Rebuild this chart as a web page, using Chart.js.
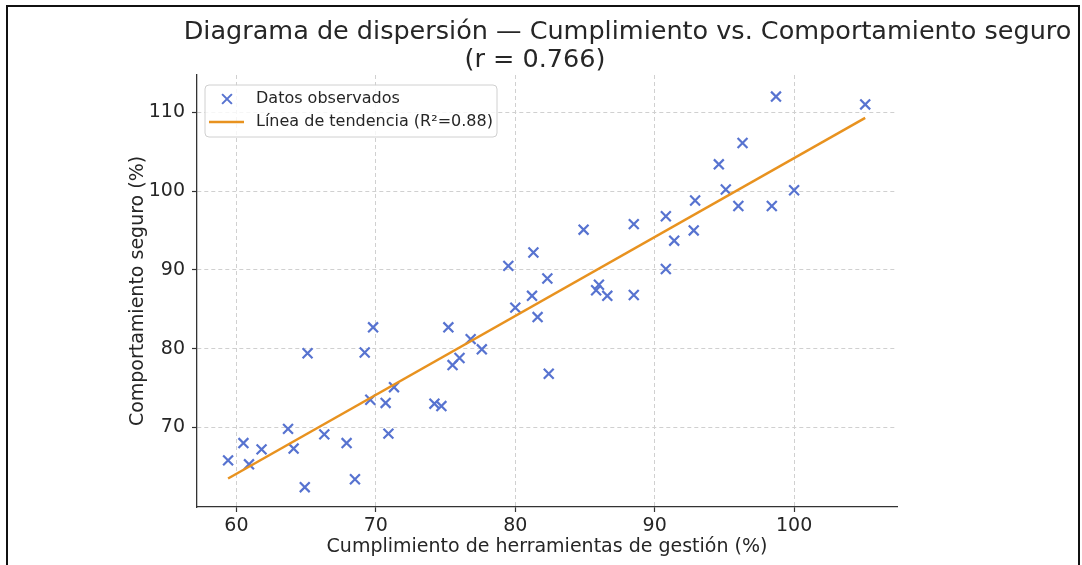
<!DOCTYPE html>
<html>
<head>
<meta charset="utf-8">
<script src="https://cdn.jsdelivr.net/npm/chart.js@4.4.0/dist/chart.umd.min.js"></script>
<style>
  html, body { margin: 0; padding: 0; background: #ffffff; }
  #wrap { width: 1082px; height: 565px; position: relative; }
</style>
</head>
<body>
<div id="wrap"><canvas id="c" width="1082" height="565"></canvas></div>
<script>
// Compliance with management tools (%) and observed safe behaviour (%)
const compliance = [59.4, 60.5, 60.9, 61.8, 63.7, 64.1, 64.9, 65.1, 66.3, 67.9,
                    68.5, 69.2, 69.8, 69.6, 70.7, 70.9, 71.3, 74.2, 74.7, 75.2,
                    75.5, 76.0, 76.8, 77.6, 80.0, 81.2, 81.6, 82.4, 85.8, 86.0,
                    86.6, 88.5, 79.5, 81.3, 82.3, 84.9, 88.5, 90.8, 90.8, 91.4,
                    92.8, 92.9, 94.6, 95.1, 96.0, 96.3, 98.4, 98.7, 100.0, 105.1];
const safety     = [65.8, 68.0, 65.3, 67.2, 69.8, 67.3, 62.4, 79.4, 69.1, 68.0,
                    63.4, 79.5, 82.7, 73.5, 73.1, 69.2, 75.1, 73.0, 72.7, 82.7,
                    77.9, 78.8, 81.2, 79.9, 85.2, 86.7, 84.0, 76.8, 87.4, 88.1,
                    86.7, 86.8, 90.5, 92.2, 88.9, 95.1, 95.8, 90.1, 96.8, 93.7,
                    95.0, 98.8, 103.4, 100.2, 98.1, 106.1, 98.1, 112.0, 100.1, 111.0];

// Fitted trend line end points
const trendX = [59.4, 105.1];
const trendY = [63.5, 109.3];

const xTicks = [60, 70, 80, 90, 100];
const yTicks = [70, 80, 90, 100, 110];

const titleLines = ['Diagrama de dispersión — Cumplimiento vs. Comportamiento seguro', '(r = 0.766)'];
const xLabel = 'Cumplimiento de herramientas de gestión (%)';
const yLabel = 'Comportamiento seguro (%)';
const seriesNames = ['Datos observados', 'Línea de tendencia (R²=0.88)'];

const FONT = "'DejaVu Sans', sans-serif";
const TEXT = '#262626';
const BLUE = '#5773d0';
const ORANGE = '#e8921f';

const points = compliance.map((x, i) => ({ x: x, y: safety[i] }));
const trend = trendX.map((x, i) => ({ x: x, y: trendY[i] }));

// Outer frame and two-line title
const framePlugin = {
  id: 'frameTitle',
  beforeDraw(chart) {
    const ctx = chart.ctx;
    ctx.save();
    ctx.fillStyle = '#ffffff';
    ctx.fillRect(0, 0, chart.width, chart.height);
    ctx.restore();
  },
  afterDraw(chart) {
    const ctx = chart.ctx;
    ctx.save();
    ctx.strokeStyle = '#111111';
    ctx.lineWidth = 2;
    ctx.beginPath();
    ctx.moveTo(7, chart.height + 2);
    ctx.lineTo(7, 6);
    ctx.lineTo(1079, 6);
    ctx.lineTo(1079, chart.height + 2);
    ctx.stroke();

    ctx.fillStyle = TEXT;
    ctx.font = "25.5px " + FONT;
    ctx.textAlign = 'center';
    ctx.textBaseline = 'alphabetic';
    ctx.fillText(titleLines[0], 627.5, 38.5);
    ctx.fillText(titleLines[1], 535, 67);
    ctx.restore();
  }
};

// Legend box in the upper-left corner of the plot
const legendPlugin = {
  id: 'boxLegend',
  afterDraw(chart) {
    const ctx = chart.ctx;
    const x0 = 205, y0 = 85, w = 292, h = 52, r = 4;
    ctx.save();
    ctx.beginPath();
    ctx.moveTo(x0 + r, y0);
    ctx.arcTo(x0 + w, y0, x0 + w, y0 + h, r);
    ctx.arcTo(x0 + w, y0 + h, x0, y0 + h, r);
    ctx.arcTo(x0, y0 + h, x0, y0, r);
    ctx.arcTo(x0, y0, x0 + w, y0, r);
    ctx.closePath();
    ctx.fillStyle = 'rgba(255,255,255,0.8)';
    ctx.fill();
    ctx.strokeStyle = '#d0d0d0';
    ctx.lineWidth = 1;
    ctx.stroke();

    const ds = chart.data.datasets;
    // marker entry
    const mx = 227, my = 99, d = 4.9;
    ctx.strokeStyle = ds[1].borderColor;
    ctx.lineWidth = 2;
    ctx.beginPath();
    ctx.moveTo(mx - d, my - d); ctx.lineTo(mx + d, my + d);
    ctx.moveTo(mx - d, my + d); ctx.lineTo(mx + d, my - d);
    ctx.stroke();
    // line entry
    ctx.strokeStyle = ds[0].borderColor;
    ctx.lineWidth = 2.5;
    ctx.beginPath();
    ctx.moveTo(209, 122); ctx.lineTo(244, 122);
    ctx.stroke();

    ctx.fillStyle = TEXT;
    ctx.font = "16px " + FONT;
    ctx.textAlign = 'left';
    ctx.textBaseline = 'middle';
    ctx.fillText(ds[1].label, 256, 99);
    ctx.fillText(ds[0].label, 256, 122);
    ctx.restore();
  }
};

new Chart(document.getElementById('c'), {
  type: 'scatter',
  data: {
    datasets: [
      {
        type: 'line',
        label: seriesNames[1],
        data: trend,
        borderColor: ORANGE,
        borderWidth: 2.5,
        pointRadius: 0,
        fill: false,
        tension: 0,
        order: 0
      },
      {
        label: seriesNames[0],
        data: points,
        pointStyle: 'crossRot',
        pointRadius: 7,
        pointHoverRadius: 7,
        borderColor: BLUE,
        backgroundColor: BLUE,
        pointBorderWidth: 2.2,
        borderWidth: 2.2,
        order: 1
      }
    ]
  },
  options: {
    responsive: false,
    animation: false,
    devicePixelRatio: 1,
    layout: { padding: { left: 118, top: 75, right: 185, bottom: 0 } },
    plugins: {
      legend: { display: false },
      title: { display: false },
      tooltip: { enabled: false }
    },
    scales: {
      x: {
        type: 'linear',
        min: 57.17,
        max: 107.38,
        afterFit(s) { s.height = 58; },
        afterBuildTicks(s) { s.ticks = xTicks.map(v => ({ value: v })); },
        ticks: {
          includeBounds: false,
          color: TEXT,
          padding: 3,
          maxRotation: 0,
          font: { family: FONT, size: 19 },
          callback: v => String(v)
        },
        grid: {
          color: '#d0d0d0',
          lineWidth: 1,
          drawTicks: true,
          tickLength: 5,
          tickColor: '#333333',
          tickWidth: 1.2
        },
        border: { display: true, color: '#333333', width: 1.3, dash: [4, 3] },
        title: {
          display: true,
          text: xLabel,
          color: TEXT,
          font: { family: FONT, size: 19 },
          padding: { top: 0, bottom: 7 }
        }
      },
      y: {
        type: 'linear',
        min: 59.88,
        max: 114.74,
        afterFit(s) { s.width = 79; },
        afterBuildTicks(s) { s.ticks = yTicks.map(v => ({ value: v })); },
        ticks: {
          includeBounds: false,
          color: TEXT,
          padding: 7,
          font: { family: FONT, size: 19 },
          callback: v => String(v)
        },
        grid: {
          color: '#d0d0d0',
          lineWidth: 1,
          drawTicks: true,
          tickLength: 5,
          tickColor: '#333333',
          tickWidth: 1.2
        },
        border: { display: true, color: '#333333', width: 1.3, dash: [4, 3] },
        title: {
          display: true,
          text: yLabel,
          color: TEXT,
          font: { family: FONT, size: 19 },
          padding: { top: 9, bottom: 0 }
        }
      }
    }
  },
  plugins: [framePlugin, legendPlugin]
});
</script>
</body>
</html>
